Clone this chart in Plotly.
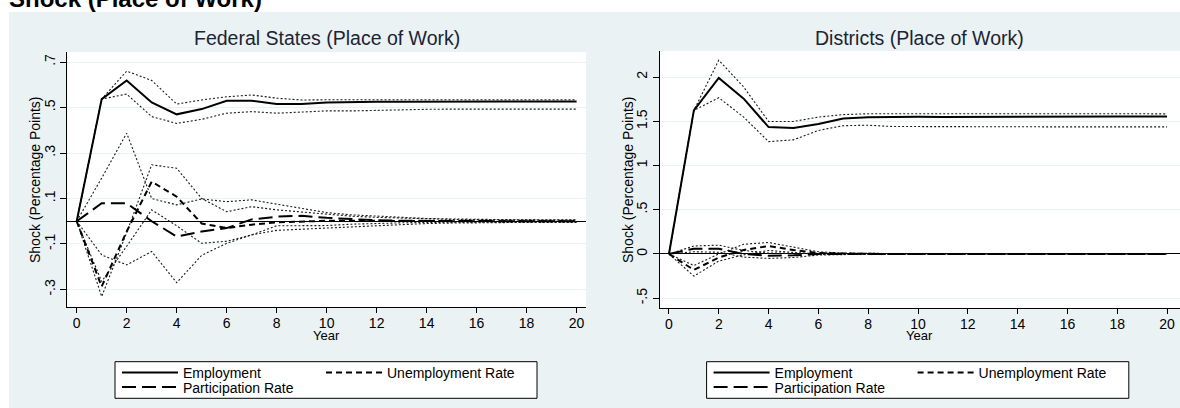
import plotly.graph_objects as go

W, H = 1180, 408

years = list(range(21))

# Federal States (Place of Work): impulse responses and bands
fs_emp = [0, 0.537, 0.619, 0.522, 0.470, 0.493, 0.530, 0.530, 0.515, 0.515, 0.522,
          0.525, 0.525, 0.525, 0.526, 0.526, 0.526, 0.526, 0.526, 0.526, 0.526]
fs_emp_hi = [0, 0.537, 0.660, 0.619, 0.515, 0.533, 0.547, 0.555, 0.541, 0.533, 0.534,
             0.533, 0.534, 0.534, 0.534, 0.533, 0.534, 0.534, 0.534, 0.534, 0.534]
fs_emp_lo = [0, 0.537, 0.559, 0.460, 0.430, 0.448, 0.475, 0.482, 0.475, 0.480, 0.485,
             0.485, 0.488, 0.490, 0.492, 0.493, 0.493, 0.493, 0.493, 0.493, 0.493]
fs_unemp = [0, -0.287, -0.045, 0.174, 0.108, -0.010, -0.030, -0.015, -0.005, 0.0, 0.002,
            0.002, 0.001, 0.0, 0.0, 0.0, 0.0, 0.0, 0.0, 0.0, 0.0]
fs_unemp_hi = [0, -0.331, -0.050, 0.248, 0.233, 0.100, 0.042, 0.064, 0.050, 0.040, 0.030,
               0.022, 0.017, 0.013, 0.010, 0.008, 0.007, 0.006, 0.005, 0.005, 0.005]
fs_unemp_lo = [0, -0.265, -0.110, 0.050, -0.020, -0.097, -0.088, -0.060, -0.020, -0.019, -0.019,
               -0.013, -0.009, -0.007, -0.005, -0.004, -0.003, -0.003, -0.003, -0.003, -0.003]
fs_part = [0, 0.079, 0.079, 0.0, -0.067, -0.045, -0.030, 0.008, 0.020, 0.024, 0.015,
           0.008, 0.004, 0.002, 0.001, 0.0, 0.0, 0.0, 0.0, 0.0, 0.0]
fs_part_hi = [0, 0.190, 0.387, 0.100, 0.072, 0.098, 0.086, 0.094, 0.075, 0.055, 0.038,
              0.028, 0.022, 0.016, 0.012, 0.010, 0.008, 0.007, 0.006, 0.006, 0.006]
fs_part_lo = [0, -0.148, -0.192, -0.133, -0.270, -0.150, -0.097, -0.060, -0.040, -0.035, -0.030,
              -0.023, -0.018, -0.015, -0.010, -0.008, -0.006, -0.005, -0.005, -0.005, -0.005]

# Districts (Place of Work)
di_emp = [0, 1.623, 1.990, 1.755, 1.434, 1.423, 1.470, 1.530, 1.545, 1.550, 1.550,
          1.548, 1.550, 1.552, 1.553, 1.553, 1.554, 1.554, 1.555, 1.555, 1.555]
di_emp_hi = [0, 1.623, 2.190, 1.887, 1.498, 1.498, 1.547, 1.575, 1.585, 1.585, 1.585,
             1.583, 1.584, 1.584, 1.584, 1.584, 1.584, 1.584, 1.584, 1.584, 1.584]
di_emp_lo = [0, 1.623, 1.766, 1.547, 1.270, 1.290, 1.396, 1.450, 1.455, 1.440, 1.440,
             1.438, 1.438, 1.437, 1.437, 1.437, 1.437, 1.437, 1.437, 1.437, 1.437]
di_unemp = [0, -0.180, -0.040, 0.045, 0.090, 0.045, 0.010, 0.003, 0.001, 0.0, 0.0,
            0.0, 0.0, 0.0, 0.0, 0.0, 0.0, 0.0, 0.0, 0.0, 0.0]
di_unemp_hi = [0, -0.130, 0.0, 0.110, 0.130, 0.075, 0.025, 0.010, 0.005, 0.003, 0.002,
               0.002, 0.001, 0.001, 0.001, 0.001, 0.001, 0.001, 0.001, 0.001, 0.001]
di_unemp_lo = [0, -0.250, -0.080, -0.010, 0.040, 0.015, -0.005, -0.003, -0.002, -0.001, -0.001,
               -0.001, 0.0, 0.0, 0.0, 0.0, 0.0, 0.0, 0.0, 0.0, 0.0]
di_part = [0, 0.060, 0.060, 0.0, -0.020, -0.015, 0.0, 0.004, 0.002, 0.0, 0.0,
           0.0, 0.0, 0.0, 0.0, 0.0, 0.0, 0.0, 0.0, 0.0, 0.0]
di_part_hi = [0, 0.090, 0.100, 0.040, 0.010, 0.010, 0.012, 0.008, 0.005, 0.003, 0.002,
              0.001, 0.001, 0.001, 0.001, 0.001, 0.001, 0.001, 0.001, 0.001, 0.001]
di_part_lo = [0, 0.025, 0.020, -0.035, -0.050, -0.040, -0.012, -0.004, -0.002, -0.001, -0.001,
              0.0, 0.0, 0.0, 0.0, 0.0, 0.0, 0.0, 0.0, 0.0, 0.0]

x_ticks = list(range(0, 21, 2))
fs_yticks = [-0.3, -0.1, 0.1, 0.3, 0.5, 0.7]
fs_ylabels = ["-.3", "-.1", ".1", ".3", ".5", ".7"]
di_yticks = [-0.5, 0, 0.5, 1, 1.5, 2]
di_ylabels = ["-.5", "0", ".5", "1", "1.5", "2"]

BG = "#EAF2F3"
FONT = "Liberation Sans, Arial, sans-serif"


def px_x(px):
    return px / W


def px_y(py):
    return 1 - py / H


fig = go.Figure()


def add_panel(xa, ya, leg_top, leg_bot, emp, emp_lo, emp_hi,
              unemp, unemp_lo, unemp_hi, part, part_lo, part_hi):
    ci = dict(color="#1a1a1a", width=1.1, dash="2px,2px")
    for band in (emp_lo, emp_hi, unemp_lo, unemp_hi, part_lo, part_hi):
        fig.add_trace(go.Scatter(x=years, y=band, mode="lines", line=ci,
                                 showlegend=False, hoverinfo="skip",
                                 xaxis=xa, yaxis=ya))
    fig.add_trace(go.Scatter(x=years, y=emp, mode="lines", name="Employment",
                             line=dict(color="black", width=2),
                             xaxis=xa, yaxis=ya, legend=leg_top))
    fig.add_trace(go.Scatter(x=years, y=unemp, mode="lines", name="Unemployment Rate",
                             line=dict(color="black", width=2, dash="6px,4px"),
                             xaxis=xa, yaxis=ya, legend=leg_top))
    fig.add_trace(go.Scatter(x=years, y=part, mode="lines", name="Participation Rate",
                             line=dict(color="black", width=2, dash="14px,6px"),
                             xaxis=xa, yaxis=ya, legend=leg_bot))


add_panel("x", "y", "legend", "legend3", fs_emp, fs_emp_lo, fs_emp_hi,
          fs_unemp, fs_unemp_lo, fs_unemp_hi, fs_part, fs_part_lo, fs_part_hi)
add_panel("x2", "y2", "legend2", "legend4", di_emp, di_emp_lo, di_emp_hi,
          di_unemp, di_unemp_lo, di_unemp_hi, di_part, di_part_lo, di_part_hi)

xcommon = dict(tickmode="array", tickvals=x_ticks, ticks="outside", ticklen=5,
               tickwidth=1, tickcolor="black", showline=True, linecolor="black",
               linewidth=1, showgrid=False, zeroline=False, ticklabelstandoff=-2,
               tickfont=dict(size=14, color="black"))
ycommon = dict(tickmode="array", ticks="outside", ticklen=6, tickwidth=1,
               tickcolor="black", showline=True, linecolor="black", linewidth=1,
               showgrid=True, gridcolor=BG, gridwidth=1, zeroline=True,
               zerolinecolor="black", zerolinewidth=1, tickangle=-90,
               tickfont=dict(size=14, color="black"))

fig.update_layout(
    xaxis=dict(domain=[px_x(67.3), px_x(586)], range=[-0.376, 20.376],
               anchor="y", **xcommon),
    yaxis=dict(domain=[px_y(307), px_y(52)], range=[-0.377, 0.744],
               tickvals=fs_yticks, ticktext=fs_ylabels, anchor="x", **ycommon),
    xaxis2=dict(domain=[px_x(660), 1.0], range=[-0.36, 20.52],
                anchor="y2", **xcommon),
    yaxis2=dict(domain=[px_y(307.7), px_y(51)], range=[-0.607, 2.294],
                tickvals=di_yticks, ticktext=di_ylabels, anchor="x2", **ycommon),
)

leg = dict(orientation="h", xanchor="left", yanchor="top", entrywidth=133,
           entrywidthmode="pixels", itemwidth=56, bgcolor="rgba(0,0,0,0)",
           borderwidth=0, font=dict(size=14, color="black"), traceorder="normal")
fig.update_layout(
    legend=dict(x=px_x(117), y=px_y(357), **leg),
    legend3=dict(x=px_x(117), y=px_y(371.5), **leg),
    legend2=dict(x=px_x(708.6), y=px_y(357), **leg),
    legend4=dict(x=px_x(708.6), y=px_y(371.5), **leg),
)

shapes = [
    # white strip above and left of the graph region
    dict(type="rect", xref="paper", yref="paper", x0=0, x1=1, y0=px_y(12), y1=1,
         fillcolor="white", line=dict(width=0), layer="below"),
    dict(type="rect", xref="paper", yref="paper", x0=0, x1=px_x(9), y0=0, y1=1,
         fillcolor="white", line=dict(width=0), layer="below"),
]
for left, right in ((115, 537), (706.6, 1128.8)):
    shapes.append(dict(type="rect", xref="paper", yref="paper",
                       x0=px_x(left), x1=px_x(right), y0=px_y(398.3), y1=px_y(361.7),
                       fillcolor="white", line=dict(color="black", width=1), layer="above"))

annotations = [
    dict(text="<b>Shock (Place of Work)</b>", x=px_x(7), y=px_y(14.5), xanchor="left",
         yanchor="bottom", font=dict(size=24, color="black")),
    dict(text="Federal States (Place of Work)", x=px_x(326.5), y=px_y(38),
         xanchor="center", yanchor="middle", font=dict(size=19.5, color="#1c2434")),
    dict(text="Districts (Place of Work)", x=px_x(919), y=px_y(38),
         xanchor="center", yanchor="middle", font=dict(size=19.5, color="#1c2434")),
    dict(text="Year", x=px_x(326.5), y=px_y(335.5), xanchor="center", yanchor="middle",
         font=dict(size=13, color="black")),
    dict(text="Year", x=px_x(919), y=px_y(335.5), xanchor="center", yanchor="middle",
         font=dict(size=13, color="black")),
    dict(text="Shock (Percentage Points)", x=px_x(35), y=px_y(180), textangle=-90,
         xanchor="center", yanchor="middle", font=dict(size=14, color="black")),
    dict(text="Shock (Percentage Points)", x=px_x(628), y=px_y(180), textangle=-90,
         xanchor="center", yanchor="middle", font=dict(size=14, color="black")),
]
for a in annotations:
    a.update(xref="paper", yref="paper", showarrow=False)

fig.update_layout(
    width=W, height=H,
    margin=dict(l=0, r=0, t=0, b=0),
    paper_bgcolor=BG,
    plot_bgcolor="white",
    font=dict(family=FONT, color="black"),
    shapes=shapes,
    annotations=annotations,
    hovermode=False,
)

# the page's default body margin would shift the 1180x408 figure out of the window
fig.write_html("out.html", config={"displayModeBar": False},
               post_script="document.body.style.margin='0px';")
